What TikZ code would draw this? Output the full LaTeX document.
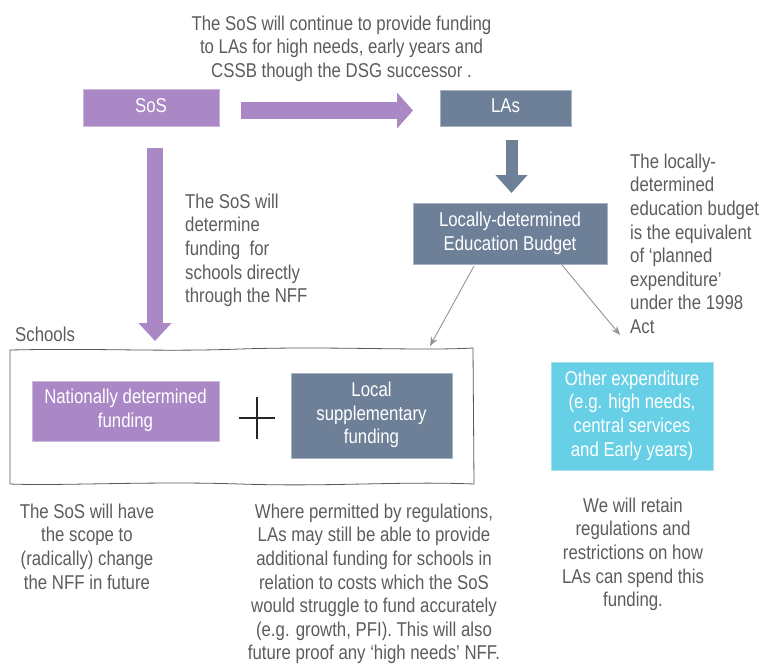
\documentclass[tikz,border=0pt]{standalone}
\usepackage{graphicx}
\usepackage{fontspec}
\setmainfont{Liberation Sans}
\usetikzlibrary{arrows.meta}
\definecolor{purp}{RGB}{170,136,198}
\definecolor{slate}{RGB}{110,128,152}
\definecolor{cyanb}{RGB}{104,208,230}
\definecolor{txt}{RGB}{92,92,92}
\newcommand\nartext[2][c]{\scalebox{0.84}[1]{\begin{tabular}{@{}#1@{}}#2\end{tabular}}}
\begin{document}
\begin{tikzpicture}[x=1pt,y=-1pt,
  every node/.style={font=\fontsize{20}{23.6}\selectfont},
  note/.style={text=txt,inner sep=0pt},
  boxp/.style={fill=purp,text=white,draw=purp!60!white,inner sep=0pt},
  boxs/.style={fill=slate,text=white,draw=slate!60!white,inner sep=0pt},
  boxc/.style={fill=cyanb,text=white,draw=cyanb!60!white,inner sep=0pt},
  thin arrow/.style={draw=gray!85,line width=0.9pt,-{Stealth[length=9pt,width=7pt]}}]
\useasboundingbox (0,0) rectangle (768,665);
% top note
\node[note,anchor=north] (topnote) at (341.5,13.5) {\nartext{The SoS will continue to provide funding\\to LAs for high needs, early years and\\CSSB though the DSG successor .}};
% boxes
\node[boxp,minimum width=136pt,minimum height=37pt] (sos) at (151,107.5) {\nartext{SoS}};
\node[boxs,minimum width=131pt,minimum height=36pt] (las) at (505.5,108) {\nartext{LAs}};
\node[boxs,minimum width=194pt,minimum height=61pt] (ldb) at (510,233.5) {\nartext{Locally-determined\\Education Budget}};
% thick arrows
\coordinate (h1) at (241,110.5);
\coordinate (h2) at (413,110.5);
\draw[purp,line width=17pt,-{Triangle[width=35pt,length=16pt]}] (h1) -- (h2);
\coordinate (v1) at (155,148);
\coordinate (v2) at (155,341);
\draw[purp,line width=16pt,-{Triangle[width=32pt,length=18pt]}] (v1) -- (v2);
\coordinate (w1) at (511.5,140);
\coordinate (w2) at (511.5,193);
\draw[slate,line width=12pt,-{Triangle[width=31pt,length=18pt]}] (w1) -- (w2);
% side notes
\node[note,anchor=north west] (sosnote) at (185,191.5) {\nartext[l]{The SoS will\\determine\\funding\ \ for\\schools directly\\through the NFF}};
\node[note,anchor=north west] (ldbnote) at (630,151.5) {\nartext[l]{The locally-\\determined\\education budget\\is the equivalent\\of `planned\\expenditure'\\under the 1998\\Act}};
% schools frame
\node[note,anchor=base west] (schoolslbl) at (15,341) {\scalebox{0.84}[1]{Schools}};
\draw[gray!70!black,line width=0.8pt] (10,350) .. controls (100,348) and (160,352) .. (240,349) .. controls (330,346) and (420,351) .. (473,348)
  -- (474,484) .. controls (400,481) and (330,487) .. (240,484) .. controls (150,481) and (60,486) .. (10,484) -- cycle;
\node[boxp,minimum width=187pt,minimum height=60pt] (nat) at (125.5,411) {\nartext{Nationally determined\\funding}};
\node[boxs,minimum width=161pt,minimum height=85pt] (loc) at (371.5,415.5) {\nartext{Local\\supplementary\\funding}};
\coordinate (pl) at (239,418);
\coordinate (pr) at (275,418);
\coordinate (pt) at (257,397);
\coordinate (pb) at (257,439);
\draw[black!85,line width=1.3pt] (pl) -- (pr) (pt) -- (pb);
\node[boxc,minimum width=162pt,minimum height=108pt] (oth) at (632,416) {\nartext{Other expenditure\\(e.g. high needs,\\central services\\and Early years)}};
% thin arrows
\coordinate (a1s) at (474,266);
\coordinate (a1e) at (430,346);
\coordinate (a2s) at (562,265);
\coordinate (a2e) at (620,335);
\draw[thin arrow] (a1s) -- (a1e);
\draw[thin arrow] (a2s) -- (a2e);
% bottom notes
\node[note,anchor=north] (bl) at (87,501.5) {\nartext{The SoS will have\\the scope to\\(radically) change\\the NFF in future}};
\node[note,anchor=north] (bm) at (374,501.5) {\nartext{Where permitted by regulations,\\LAs may still be able to provide\\additional funding for schools in\\relation to costs which the SoS\\would struggle to fund accurately\\(e.g. growth, PFI). This will also\\future proof any `high needs' NFF.}};
\node[note,anchor=north] (br) at (633,495.5) {\nartext{We will retain\\regulations and\\restrictions on how\\LAs can spend this\\funding.}};
\end{tikzpicture}
\end{document}
